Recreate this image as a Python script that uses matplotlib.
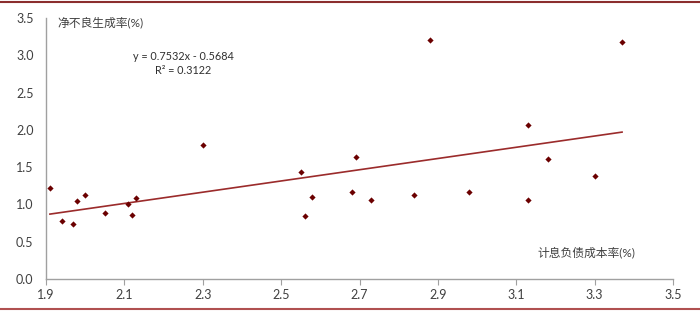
import matplotlib
matplotlib.use("Agg")
import matplotlib.pyplot as plt
from matplotlib.lines import Line2D
import numpy as np

plt.rcParams['font.family'] = ['Lato', 'Noto Sans CJK SC', 'DejaVu Sans']

cost_rate = [1.91, 1.94, 1.97, 1.98, 2.00, 2.05, 2.11, 2.12, 2.13, 2.30,
             2.55, 2.56, 2.58, 2.68, 2.69, 2.73, 2.84, 2.88, 2.98, 3.13,
             3.13, 3.18, 3.30, 3.37]
npl_rate = [1.22, 0.78, 0.74, 1.05, 1.12, 0.89, 1.01, 0.86, 1.08, 1.80,
            1.44, 0.85, 1.10, 1.17, 1.64, 1.06, 1.12, 3.20, 1.17, 2.06,
            1.06, 1.61, 1.38, 3.18]
slope, intercept = 0.7532, -0.5684
r2 = 0.3122
x_ticks = [1.9, 2.1, 2.3, 2.5, 2.7, 2.9, 3.1, 3.3, 3.5]
y_ticks = [0.0, 0.5, 1.0, 1.5, 2.0, 2.5, 3.0, 3.5]

fig = plt.figure(figsize=(7, 3.12), dpi=100)
ax = fig.add_axes([46/700, 1-279/312, (673-46)/700, (279-18)/312])

ax.scatter(cost_rate, npl_rate, marker='D', s=10, color='#6B0000', zorder=3, linewidths=0)
xl = np.array([min(cost_rate), max(cost_rate)])
ax.plot(xl, slope*xl + intercept, color='#9B2B2B', lw=1.2, zorder=2)

ax.set_xlim(1.9, 3.5)
ax.set_ylim(0, 3.5)
ax.set_xticks(x_ticks)
ax.set_yticks(y_ticks)
ax.set_xticklabels([f"{v:.1f}" for v in x_ticks])
ax.set_yticklabels([f"{v:.1f}" for v in y_ticks])
for s in ['top', 'right']:
    ax.spines[s].set_visible(False)
for s in ['left', 'bottom']:
    ax.spines[s].set_color('#A0A0A0')
    ax.spines[s].set_linewidth(1.0)
ax.tick_params(axis='x', direction='out', length=4, color='#A0A0A0', labelsize=9, labelcolor='#404040', pad=3)
ax.tick_params(axis='y', length=0, labelsize=9, labelcolor='#404040', pad=9)

ax.text(2.04, 3.44, u"净不良生成率(%)", fontsize=8.5, color='#404040', ha='center', va='center')
ax.text(3.28, 0.36, u"计息负债成本率(%)", fontsize=8.5, color='#404040', ha='center', va='center')
ax.text(2.25, 2.98, f"y = {slope}x - {abs(intercept)}", fontsize=7.8, color='#303030', ha='center', va='center')
ax.text(2.25, 2.80, f"R² = {r2}", fontsize=7.8, color='#303030', ha='center', va='center')

fig.add_artist(Line2D([0, 1], [1-1.5/312, 1-1.5/312], color='#8B2E2E', lw=1.5, transform=fig.transFigure))
fig.add_artist(Line2D([0, 1], [1-309/312, 1-309/312], color='#B05050', lw=1.5, transform=fig.transFigure))

fig.savefig("out.png", dpi=100)
